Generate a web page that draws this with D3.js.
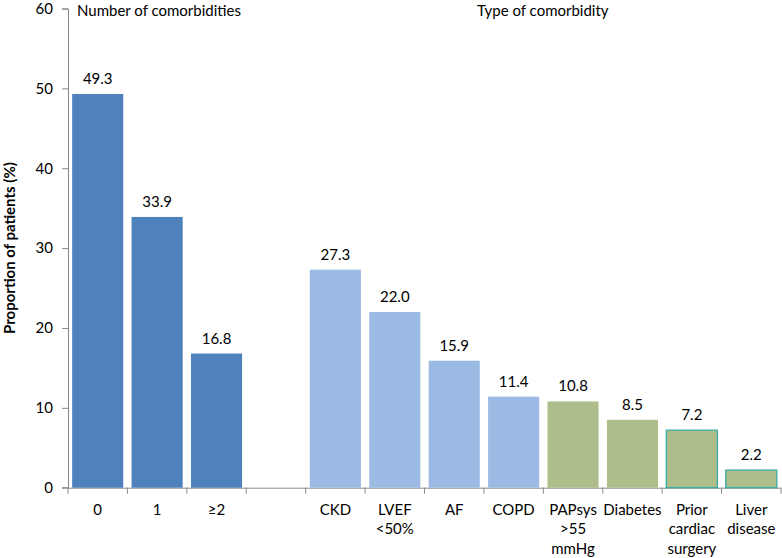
<!DOCTYPE html>
<html>
<head>
<meta charset="utf-8">
<script src="https://cdn.jsdelivr.net/npm/d3@7"></script>
<style>
  body { margin: 0; background: #fff; }
  text { font-family: Lato, "Open Sans", sans-serif; fill: #000; }
</style>
</head>
<body>
<script>
// chart data
var categories = ['0', '1', '≥2', '', 'CKD', 'LVEF\n<50%', 'AF', 'COPD',
                  'PAPsys\n>55\nmmHg', 'Diabetes', 'Prior\ncardiac\nsurgery', 'Liver\ndisease'];
var values = [49.3, 33.9, 16.8, null, 27.3, 22.0, 15.9, 11.4, 10.8, 8.5, 7.2, 2.2];
var groups = ['count', 'count', 'count', null, 'cv', 'cv', 'cv', 'cv', 'other', 'other', 'other', 'other'];
var outlined = [false, false, false, false, false, false, false, false, false, false, true, true];
var yTicks = [0, 10, 20, 30, 40, 50, 60];

var svgwidth = 782, svgheight = 558;
var margins = { top: 8.5, left: 68, right: 1, bottom: 70 };
var height = 487.7 - margins.top;
var width = svgwidth - margins.left - margins.right;

var colors = { count: '#4f81bd', cv: '#9bbbe5', other: '#adbe8b' };

var svg = d3.select('body').append('svg')
            .attr('width', svgwidth)
            .attr('height', svgheight);

var xscale = d3.scaleBand()
               .domain(d3.range(categories.length))
               .range([0, width])
               .paddingInner(0.14)
               .paddingOuter(0.07);

var yscale = d3.scaleLinear()
               .domain([0, 60])
               .range([height, 0]);

var g = svg.append('g').attr('transform', 'translate(' + margins.left + ',' + margins.top + ')');

// y axis
var yaxis = g.append('g')
             .call(d3.axisLeft(yscale).tickValues(yTicks).tickSize(6).tickPadding(9));
yaxis.selectAll('text').style('font-size', '15px');
yaxis.selectAll('line, path').attr('stroke', '#888');
yaxis.select('.domain').attr('d', 'M-6,0.5H0.5V' + height + 'H-6');

// x axis line + ticks between categories
g.append('line')
 .attr('x1', 0).attr('x2', width)
 .attr('y1', height + 0.5).attr('y2', height + 0.5)
 .attr('stroke', '#888');
g.selectAll('.xtick').data(d3.range(categories.length + 1)).enter()
 .append('line')
 .attr('x1', function(d) { return d * width / categories.length; })
 .attr('x2', function(d) { return d * width / categories.length; })
 .attr('y1', height).attr('y2', height + 6)
 .attr('stroke', '#888');

// bars
var barData = values.map(function(v, i) { return { v: v, i: i }; })
                    .filter(function(d) { return d.v !== null; });

g.selectAll('.bar').data(barData).enter()
 .append('rect')
 .attr('x', function(d) { return xscale(d.i); })
 .attr('y', function(d) { return yscale(d.v); })
 .attr('width', xscale.bandwidth())
 .attr('height', function(d) { return height - yscale(d.v); })
 .attr('fill', function(d) { return colors[groups[d.i]]; })
 .attr('stroke', function(d) { return outlined[d.i] ? '#3aaba6' : 'none'; })
 .attr('stroke-width', 1.3);

// value labels
g.selectAll('.val').data(barData).enter()
 .append('text')
 .attr('x', function(d) { return xscale(d.i) + xscale.bandwidth() / 2; })
 .attr('y', function(d) { return yscale(d.v) - 10; })
 .attr('text-anchor', 'middle')
 .style('font-size', '15px')
 .text(function(d) { return d.v.toFixed(1); });

// category labels
categories.forEach(function(c, i) {
  if (!c) return;
  var t = g.append('text')
           .attr('x', xscale(i) + xscale.bandwidth() / 2)
           .attr('y', height + 27)
           .attr('text-anchor', 'middle')
           .style('font-size', '15px');
  c.split('\n').forEach(function(line, k) {
    t.append('tspan')
     .attr('x', xscale(i) + xscale.bandwidth() / 2)
     .attr('dy', k === 0 ? 0 : 19.5)
     .text(line);
  });
});

// section headers
svg.append('text').attr('x', 77).attr('y', 16).style('font-size', '15px').text('Number of comorbidities');
svg.append('text').attr('x', 477).attr('y', 16).style('font-size', '15px').text('Type of comorbidity');

// y axis title
svg.append('text')
   .attr('transform', 'translate(15,' + (margins.top + height / 2) + ') rotate(-90)')
   .attr('text-anchor', 'middle')
   .style('font-size', '15px')
   .style('font-weight', 'bold')
   .text('Proportion of patients (%)');
</script>
</body>
</html>
